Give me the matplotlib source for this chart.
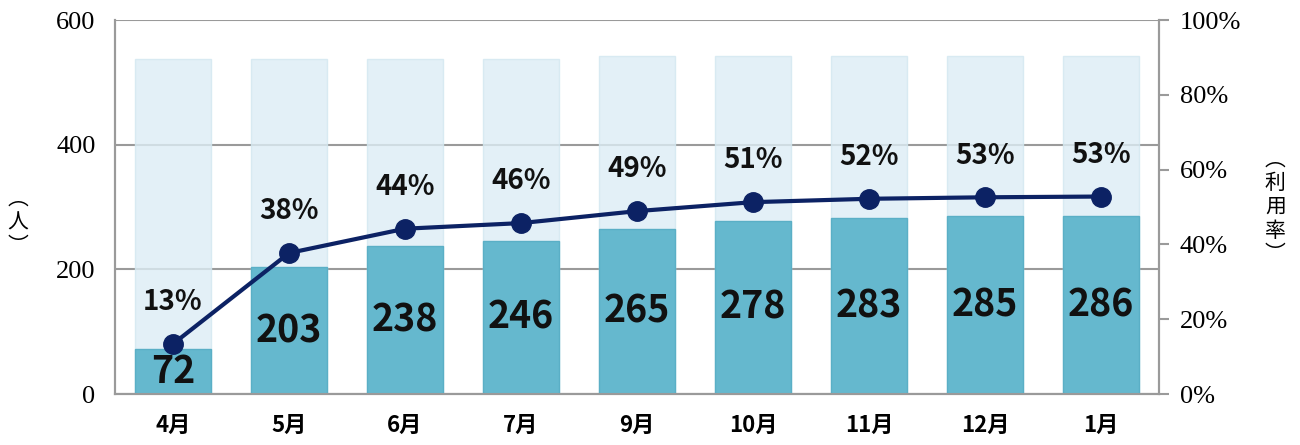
import matplotlib.pyplot as plt
from matplotlib.ticker import FuncFormatter

months = ['4月', '5月', '6月', '7月', '9月', '10月', '11月', '12月', '1月']
users = [72, 203, 238, 246, 265, 278, 283, 285, 286]       # 利用者数（人）
capacity = [538, 538, 538, 538, 542, 542, 542, 542, 542]   # 定員（薄い棒）
rate = [13.4, 37.7, 44.2, 45.7, 48.9, 51.3, 52.2, 52.6, 52.8]  # 利用率（%）
rate_labels = ['13%', '38%', '44%', '46%', '49%', '51%', '52%', '53%', '53%']

narrow = ['Noto Sans CJK JP', 'DejaVu Sans']
serif = ['Liberation Serif', 'DejaVu Serif']
jp = ['Noto Sans CJK JP', 'DejaVu Sans']

fig = plt.figure(figsize=(13, 4.45), dpi=100)
ax = fig.add_axes([0.0885, 0.1146, 0.803, 0.8404])
ax2 = ax.twinx()

x = range(len(months))
ax.bar(x, capacity, width=0.655, color='#DDEDF5', alpha=0.8,
       edgecolor='#D2E7F0', linewidth=1, zorder=2)
ax.bar(x, users, width=0.655, color='#65B8CE', edgecolor='#5AAFC6',
       linewidth=1, zorder=3)

for i, v in enumerate(users):
    ax.text(i, v / 2, str(v), ha='center', va='center', fontsize=27,
            fontweight='bold', family=narrow, color='#111111', zorder=5)

ax.set_ylim(0, 600)
ax.set_xlim(-0.5, len(months) - 0.5)
ax.set_yticks([0, 200, 400, 600])
ax.yaxis.grid(True, color='#9A9A9A', linewidth=1.5, zorder=0)
ax.set_axisbelow(True)
ax.tick_params(axis='y', length=0, pad=14, labelsize=19)
ax.tick_params(axis='x', length=0, pad=14, labelsize=16)
for lbl in ax.get_yticklabels():
    lbl.set_family(serif)
ax.set_xticks(list(x))
ax.set_xticklabels(months, family=narrow, fontweight='bold')

ax2.plot(x, rate, color='#0C2264', linewidth=3, marker='o', markersize=14,
         zorder=6, clip_on=False)
for i, (v, s) in enumerate(zip(rate, rate_labels)):
    ax2.annotate(s, (i, v), xytext=(0, 30), textcoords='offset points',
                 ha='center', va='center', fontsize=20, fontweight='bold',
                 family=narrow, color='#111111')
ax2.set_ylim(0, 100)
ax2.set_yticks([0, 20, 40, 60, 80, 100])
ax2.yaxis.set_major_formatter(FuncFormatter(lambda v, p: f'{v:.0f}%'))
ax2.tick_params(axis='y', length=7, width=1.5, color='#9A9A9A', pad=8,
                labelsize=19)
for lbl in ax2.get_yticklabels():
    lbl.set_family(serif)

for a in (ax, ax2):
    for side in ('left', 'right', 'bottom', 'top'):
        a.spines[side].set_color('#9A9A9A')
        a.spines[side].set_linewidth(1.5)
    a.spines['top'].set_visible(False)

fig.text(0.014, 0.5, '︵\n人\n︶', ha='center', va='center', fontsize=15,
         family=jp, linespacing=1.1)
fig.text(0.981, 0.535, '︵\n利\n用\n率\n︶', ha='center', va='center',
         fontsize=15, family=jp, linespacing=1.1)

fig.savefig('out.png', dpi=100)
